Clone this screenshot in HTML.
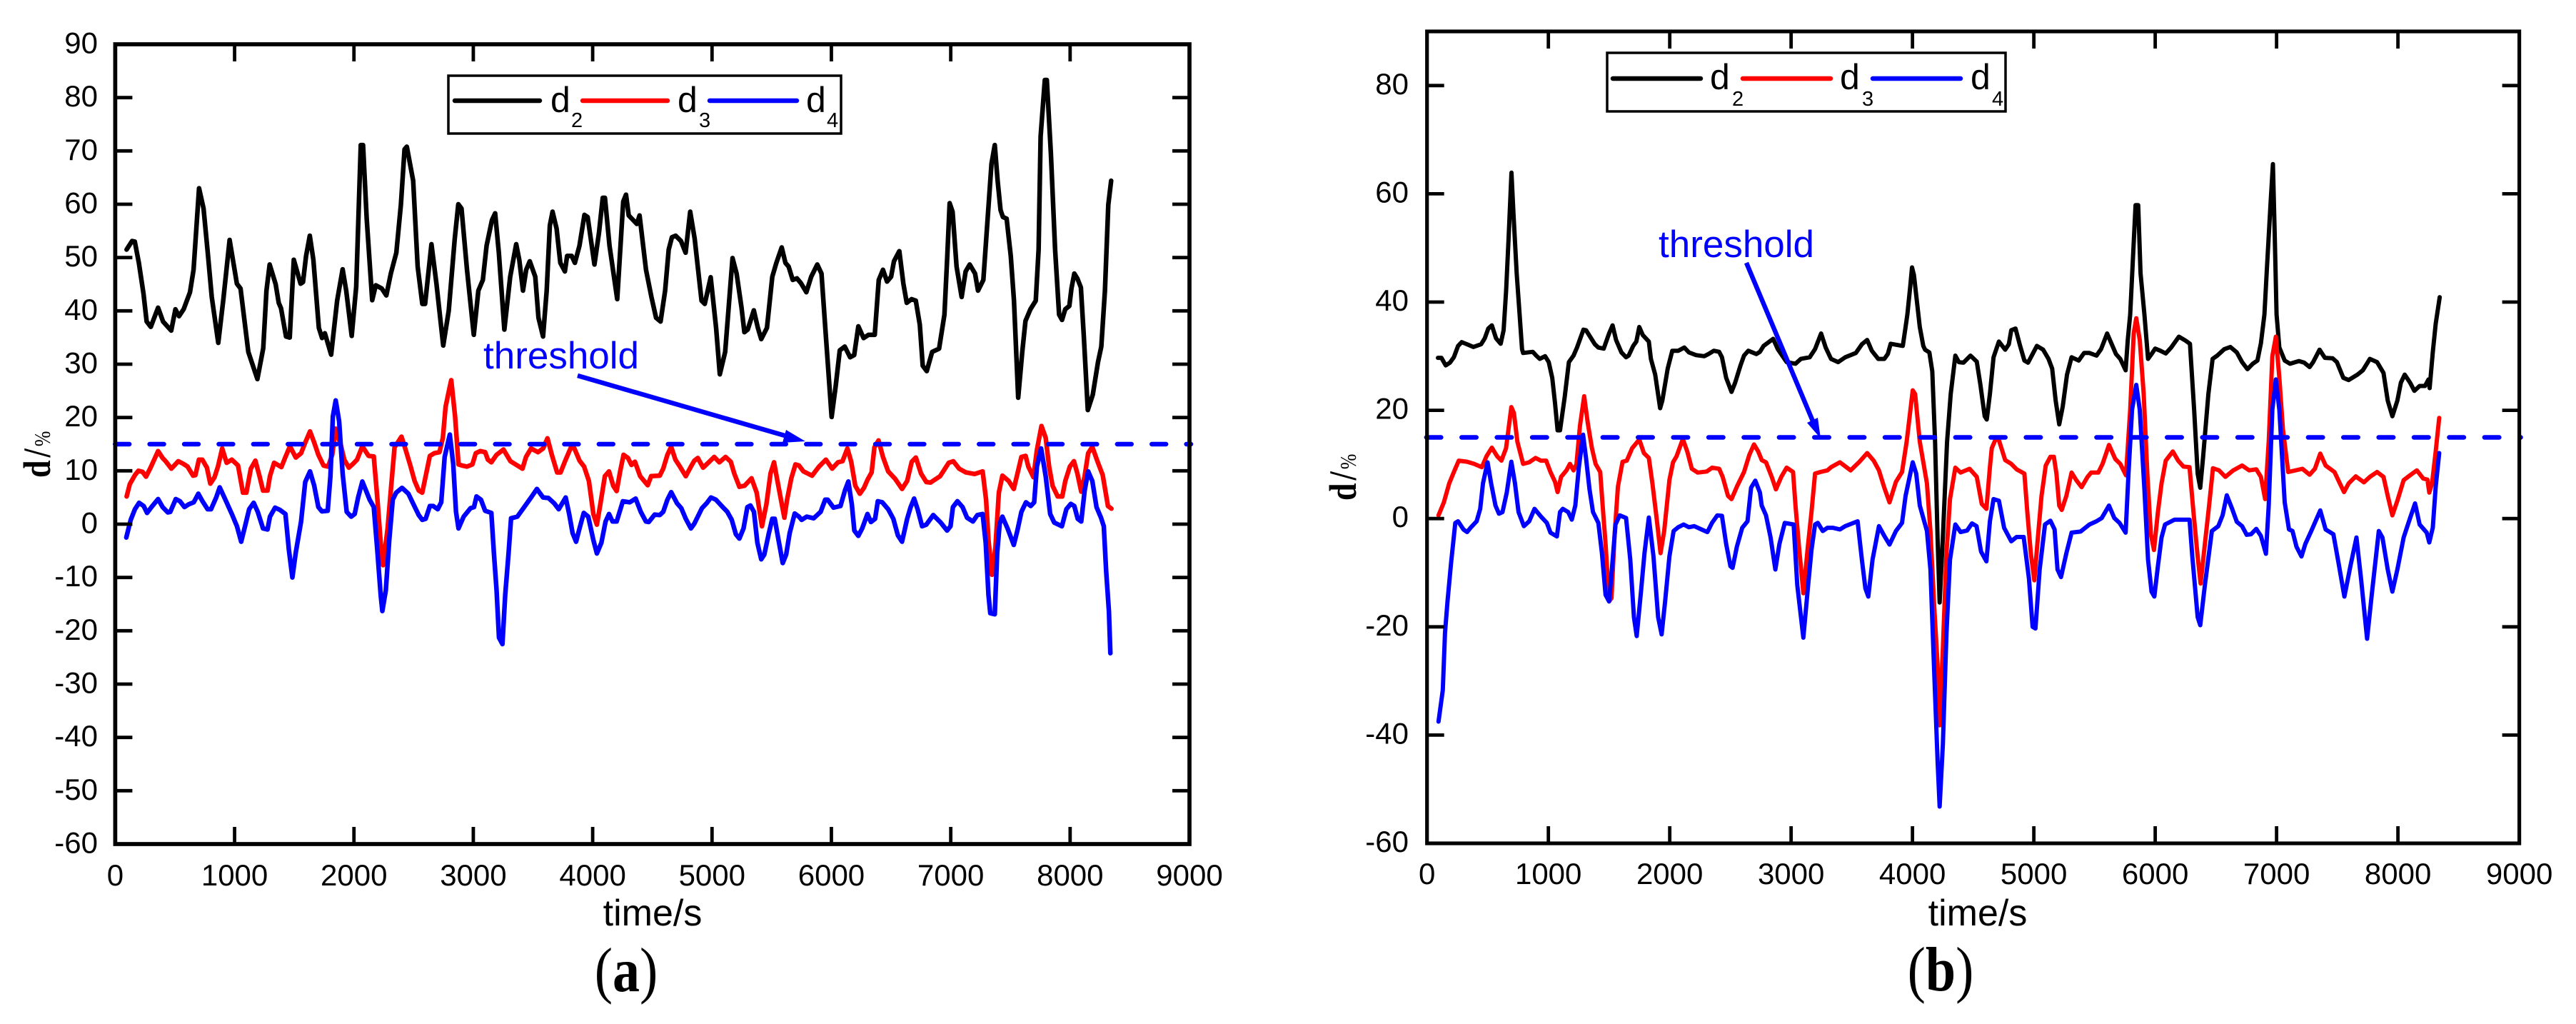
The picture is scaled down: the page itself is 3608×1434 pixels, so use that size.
<!DOCTYPE html>
<html lang="en">
<head>
<meta charset="utf-8">
<title>d2 d3 d4 deviation over time</title>
<style>
html,body{margin:0;padding:0;background:#fff;}
svg{display:block;}
text{font-family:"Liberation Sans",Arial,sans-serif;}
</style>
</head>
<body>
<svg id="fig" xmlns="http://www.w3.org/2000/svg" width="3608" height="1434" viewBox="0 0 3608 1434"></svg>
<script>
const xTickLabels = [0,1000,2000,3000,4000,5000,6000,7000,8000,9000];
const yTickLabelsA = [90,80,70,60,50,40,30,20,10,0,-10,-20,-30,-40,-50,-60];
const yTickLabelsB = [80,60,40,20,0,-20,-40,-60];
const thresholdValue = 15;

const aD2T = [95,141,164,198,237,263,298,359,401,469,
504,534,573,626,656,702,740,775,809,863,
905,958,1019,1050,1115,1191,1240,1267,1294,1344,
1370,1389,1431,1462,1496,1553,1573,1599,1630,1660,
1706,1733,1756,1809,1859,1905,1935,1981,2019,2057,
2076,2107,2153,2183,2233,2271,2309,2355,2393,2424,
2443,2496,2534,2573,2596,2649,2691,2748,2794,2844,
2874,2901,2947,3004,3042,3080,3111,3156,3183,3214,
3260,3309,3359,3385,3416,3443,3473,3519,3546,3584,
3615,3641,3664,3698,3729,3767,3786,3824,3851,3889,
3931,3958,4015,4053,4084,4103,4141,4206,4256,4279,
4302,4340,4370,4393,4447,4492,4531,4569,4607,4637,
4664,4695,4740,4779,4817,4855,4912,4939,4989,5034,
5065,5110,5172,5206,5247,5271,5299,5350,5384,5412,
5460,5505,5539,5584,5615,5642,5676,5711,5745,5790,
5831,5882,5917,5951,6002,6036,6070,6112,6157,6191,
6226,6270,6311,6363,6397,6432,6466,6500,6524,6569,
6603,6631,6672,6707,6741,6765,6799,6844,6902,6947,
6971,6991,7015,7049,7091,7125,7159,7204,7228,7273,
7307,7341,7369,7393,7417,7437,7468,7503,7530,7565,
7599,7626,7667,7712,7736,7753,7788,7805,7839,7874,
7908,7932,7959,7993,8011,8035,8062,8090,8114,8148,
8190,8234,8261,8292,8320,8344];
const aD2V = [51.5,53.1,53,49,43.2,38,37,40.6,38,36.3,
40.3,39,40.3,43.5,47.7,63,59.2,50.9,42.6,34,
42,53.3,45.1,44.2,32.3,27.2,33,43.8,48.7,45,
41.5,40.5,35.2,35,49.6,45.1,45.4,50.3,54.1,49.6,
36.8,34.9,35.8,31.8,41.9,47.8,43.8,35.3,44.5,71.1,
71.1,57.3,42,44.8,44.2,42.9,47,50.9,59.9,70.3,
70.8,64.4,48.3,41.3,41.3,52.5,45.1,33.5,40,53.5,
60,59.2,47.7,35.5,43.8,45.8,52.2,57,58.3,50.9,
36.5,46.4,52.5,49.6,43.8,47.7,49.3,46.4,38.7,35.2,
43.8,56,58.6,55.4,49,47.4,50.3,50.3,49,52.2,
58,57.6,48.7,54.7,61.2,61.2,52.2,42.2,60.5,61.8,
57.9,57,56.3,57.9,47.7,42.6,38.7,38,43.8,51.5,
53.8,54.1,53.1,50.9,58.6,53.5,41.9,41.3,46.3,36.8,
28.1,32.3,49.9,47,40.6,36,36.5,40.1,36.8,34.7,
36.8,46.4,49,51.9,49,48.3,45.8,46.1,45.2,43.5,
46.4,48.7,47,36.1,20.1,25.9,32.6,33.3,31.3,31.7,
37.1,34.9,35.5,35.5,45.8,47.7,45.5,46.4,49.3,51.2,
45.1,41.5,42.2,41.9,37.4,29.7,28.7,32.3,32.9,39.3,
50.3,60.2,58.6,48.3,42.6,47.4,48.7,47,43.8,45.8,
56.7,67.6,71.1,64.4,58.9,57.6,57.3,50.3,41.9,23.7,
32.3,38.1,40.3,41.9,51.5,72.7,83.3,83.3,69.5,51.5,
39.3,38.3,40.3,40.9,44.2,47,46,44.4,35.5,21.4,
24.3,30.4,33.3,43.8,59.9,64.4];

const aD3T = [96,122,165,194,229,258,296,359,397,426,
470,528,571,606,652,672,701,730,768,797,
832,861,896,933,977,1029,1070,1099,1136,1174,
1209,1238,1276,1296,1331,1392,1426,1464,1513,1557,
1592,1632,1667,1702,1745,1783,1818,1847,1890,1919,
1957,1992,2026,2070,2122,2166,2195,2224,2244,2282,
2311,2340,2398,2427,2470,2508,2543,2572,2601,2636,
2673,2716,2745,2768,2803,2815,2847,2876,2905,2948,
2992,3021,3058,3099,3122,3151,3195,3253,3311,3369,
3412,3441,3484,3542,3585,3621,3658,3702,3731,3774,
3818,3847,3890,3928,3968,4006,4035,4064,4102,4137,
4172,4201,4230,4259,4296,4325,4354,4398,4461,4490,
4562,4591,4626,4658,4693,4731,4780,4823,4852,4881,
4925,4968,5018,5061,5113,5157,5186,5229,5273,5331,
5374,5418,5455,5490,5519,5548,5606,5629,5664,5699,
5728,5766,5838,5896,5954,6006,6055,6093,6134,6166,
6200,6238,6273,6302,6337,6360,6395,6432,6476,6534,
6592,6635,6673,6708,6751,6795,6830,6911,6983,7021,
7070,7128,7200,7267,7296,7316,7345,7374,7403,7433,
7485,7528,7563,7592,7627,7650,7693,7722,7760,7795,
7824,7853,7896,7934,7960,7998,8032,8061,8093,8122,
8151,8186,8230,8273,8317,8346];
const aD3V = [5.2,7.5,9.2,10,9.8,8.9,10.6,13.7,12.4,11.7,
10.4,11.8,11.3,10.8,9.1,9.2,12.1,12.1,10.6,7.6,
8.8,10.8,14.2,11.5,12.1,11,5.9,5.9,10.4,11.9,
9,6.3,6.3,9,11.5,10.7,12.6,14.6,12.5,13.3,
15.3,17.4,15.3,13,11,10.8,13,17.9,14.8,12.1,
10.6,11.3,12.1,14.6,12.8,12.7,5,-3.5,-7.7,-0.8,
6.8,14.4,16.4,14.4,11.2,8.1,6.3,5.9,9,12.8,
13.3,13.5,16.2,22,25.8,27,20.2,11.2,11,10.8,
11.2,13.3,13.7,13.5,12.1,11.6,13,14,11.8,11,
10.4,12.6,14.2,13.5,14.2,16.1,13,9.7,9.7,12.1,
14.4,14.2,11.9,10.8,8.1,1.9,-0.1,3.7,9,9.9,
7.2,6.2,9.9,13,12.4,11.1,11.7,9,7.3,9,
9.1,10.4,13,14.5,12.1,10.8,9,10.8,11.9,12.4,
10.6,11.5,12.6,11.6,12.6,11.7,9.5,7,7.2,8.6,
5.9,-0.4,3.7,9.5,11.6,8.1,1.2,4.6,8.6,11.2,
11,9.9,9.1,10.8,12.1,10.4,11.6,11.8,14.2,11.7,
7.2,5.7,6.8,8.3,9.7,14.4,15.7,12.6,9.9,8.5,
6.6,8.1,11.7,12.5,9.5,7.9,7.8,9,11.5,11.8,
10.4,9.7,9.4,9.9,4.6,-3,-9.5,-4.4,5.9,9.1,
8.1,6.6,9.9,12.6,12.8,10.8,8.8,13.9,18.4,16.2,
10.8,7.2,5.2,5.2,8.1,10.8,11.8,9.5,6.1,9,
13.3,14.5,11.7,9.2,3.4,2.9];

const aD4T = [93,130,165,200,238,267,304,359,397,441,
461,507,542,580,614,658,696,731,774,803,
846,875,919,977,1020,1055,1093,1122,1160,1194,
1238,1276,1296,1339,1377,1426,1455,1484,1513,1557,
1592,1632,1667,1702,1731,1780,1803,1823,1847,1876,
1905,1939,1977,2006,2035,2070,2108,2131,2166,2195,
2224,2238,2267,2296,2325,2354,2403,2456,2499,2543,
2572,2601,2636,2664,2702,2731,2760,2803,2832,2855,
2876,2919,2977,3006,3027,3064,3099,3151,3172,3195,
3215,3244,3267,3296,3316,3369,3426,3484,3533,3585,
3629,3678,3716,3774,3803,3832,3861,3890,3925,3963,
4006,4035,4073,4108,4137,4166,4201,4253,4311,4360,
4403,4446,4470,4519,4562,4591,4626,4658,4707,4742,
4780,4823,4852,4916,4954,4991,5032,5090,5128,5165,
5200,5229,5264,5296,5322,5351,5380,5412,5438,5476,
5505,5525,5554,5592,5621,5650,5693,5728,5751,5794,
5852,5910,5948,5969,6018,6076,6113,6142,6171,6192,
6226,6258,6302,6331,6366,6389,6426,6476,6519,6557,
6592,6635,6664,6693,6722,6760,6795,6853,6916,6969,
6998,7018,7056,7099,7137,7186,7223,7267,7293,7316,
7331,7369,7389,7410,7433,7476,7528,7557,7592,7630,
7670,7699,7722,7757,7795,7833,7867,7931,7969,8006,
8035,8064,8093,8122,8151,8186,8221,8259,8282,8302,
8325,8337];
const aD4V = [-2.5,0.8,2.8,4,3.4,2.1,3.2,4.7,3.2,2.2,
2.3,4.7,4.3,3.2,3.7,4.1,5.7,4.3,2.8,2.8,
5,6.9,4.8,1.9,-0.4,-3.3,0.1,2.8,4,2.3,
-0.8,-1,1.4,3.1,2.7,1.9,-4.8,-10,-5.3,0.5,
7.9,9.9,7.2,3.2,2.4,2.5,9,20.2,23.2,19.3,
9.5,2.3,1.4,1.9,5,8,5.9,4.6,3.2,-4.8,
-13.3,-16.3,-12.4,-3,4.6,5.9,6.8,5.7,3.7,1.7,
0.8,1,3.4,3.4,2.8,4.1,12.6,16.8,11.3,2.3,
-0.8,1.4,3,3.2,5.2,4.6,2.5,2.1,-5.3,-12.4,
-21.3,-22.5,-13.3,-5.3,1.1,1.4,3.2,5,6.6,5,
4.9,3.9,2.8,5,1.9,-1.7,-3.3,-0.8,2.1,1.4,
-3,-5.5,-3.5,0.5,1.9,0.5,0.5,4.3,4.1,4.8,
2.3,0.5,0.4,1.8,1.7,2.3,4.6,6,3.9,3,
1,-0.8,0.1,3,3.9,5,4.6,3.2,2.3,0.8,
-1.9,-2.7,-0.8,3.2,3.5,2.3,-3.5,-6.6,-5.7,-1.7,
1,1,-2.6,-7.3,-5.7,-1.7,2,1.4,0.8,1.4,
1.1,2.3,4.6,4.6,3.1,3.4,6.3,8,3.7,-1.2,
-2.2,-0.8,1.9,0.4,1,4.3,4.1,2.8,1,-2.1,
-3.3,1,3.2,4.8,2.8,-0.4,-0.1,1.7,0.3,-1.2,
-0.4,3.2,4.3,3.2,1.2,0.5,1.7,1.9,-3.5,-13.3,
-16.7,-16.9,-5.3,0.1,1.4,-0.8,-3.9,-1.3,2.3,4.1,
3.4,4.1,10.8,14.2,9,1.9,0.3,-0.4,2.8,3.8,
3.4,1,0.5,6.3,9.9,8.1,3.2,1.2,-0.4,-8.8,
-16.4,-24.2];

const bD2T = [90,119,154,189,221,256,286,330,382,446,
476,505,534,569,607,631,652,672,696,712,
739,763,783,792,871,900,929,973,1003,1032,
1055,1076,1096,1134,1169,1207,1236,1289,1310,1383,
1412,1456,1500,1529,1558,1602,1640,1661,1699,1725,
1749,1778,1828,1845,1880,1921,1939,1983,2021,2070,
2120,2158,2217,2284,2319,2363,2407,2430,2465,2509,
2539,2583,2612,2647,2714,2743,2773,2852,2890,2963,
3036,3080,3153,3197,3247,3285,3329,3387,3446,3533,
3583,3627,3665,3718,3768,3797,3820,3920,3943,3958,
3982,3996,4012,4060,4089,4104,4139,4163,4186,4207,
4224,4250,4285,4315,4353,4382,4420,4478,4530,4559,
4595,4612,4638,4668,4712,4764,4794,4814,4849,4887,
4922,4952,4990,5025,5077,5121,5151,5180,5209,5238,
5273,5311,5370,5414,5458,5516,5554,5604,5648,5677,
5712,5756,5774,5794,5838,5860,5879,5911,5941,5970,
6000,6043,6087,6131,6195,6248,6286,6321,6350,6371,
6394,6438,6473,6511,6570,6619,6672,6716,6760,6804,
6842,6871,6900,6920,6950,6970,6985,7000,7023,7067,
7111,7184,7228,7272,7301,7354,7398,7462,7497,7550,
7594,7667,7711,7769,7828,7881,7916,7954,7995,8024,
8056,8100,8135,8179,8223,8252,8261,8287,8311,8344];
const bD2V = [29.7,29.7,28.3,28.8,29.8,31.9,32.6,32.2,31.7,32.2,
33.3,35.1,35.7,33.3,32.3,34.8,42.1,51.6,63.9,56.6,
45.3,37.7,31.3,30.6,30.8,30.1,29.5,30,28.9,26,
21.3,16.3,16.3,22.4,28.9,30.1,31.6,34.9,34.8,32.2,
31.6,31.4,34.2,35.7,33,30.7,29.8,30.1,31.9,32.7,
35.4,33.9,32.7,29.5,26.6,20.4,21.8,27.7,31,31,
31.6,30.7,30.2,30,30.4,31,30.8,29.8,26,23.4,
25.1,28.3,30.1,31,30.4,30.8,31.9,33.2,31.3,28.9,
28.6,29.5,29.8,31.3,34.2,31.6,29.5,28.9,29.8,30.6,
32.2,33,31,29.5,29.5,30.4,32.3,31.9,35.4,37.7,
43,46.4,45,35.4,31.9,31.2,30.7,27.2,14.2,-3.5,
-15.5,-3.5,14.2,23,30.1,28.9,28.8,30.1,29,24.8,
18.9,18.3,23,29.8,32.7,31.2,32.2,34.8,35.1,31.9,
29.2,28.8,30.4,31.9,31.2,29.5,27.7,21.8,17.4,20.7,
26.6,29.8,29.2,30.6,30.6,30.1,31.3,34.2,31.9,30.4,
29.5,27.4,33,37.7,57.9,57.9,45.3,37.7,29.5,30.4,
31.4,31,30.5,31.6,33.6,32.9,32.3,20,8.3,5.7,
11.2,23,29.5,30.1,31.3,31.7,30.7,28.9,27.6,28.6,
29.2,32.4,37.7,46,58,65.5,52,37.7,31.6,29.2,
28.6,29.1,28.8,28,28.9,31.2,29.7,29.6,28.9,26,
25.6,26.6,27.4,29.5,28.9,26.9,21.8,18.9,21.8,25.1,
26.6,25.1,23.6,24.5,24.5,25.7,24.1,30.7,36,40.9];

const bD3T = [95,139,183,227,262,330,388,452,490,534,
578,613,651,695,716,745,792,842,894,938,
982,1017,1055,1076,1105,1149,1178,1207,1231,1260,
1295,1324,1359,1389,1427,1447,1471,1500,1520,1544,
1573,1611,1646,1690,1749,1787,1828,1857,1895,1924,
1954,1997,2027,2056,2108,2144,2182,2231,2305,2349,
2407,2436,2480,2509,2553,2612,2656,2694,2729,2758,
2793,2840,2875,2919,2963,3016,3036,3065,3101,3138,
3168,3197,3241,3299,3329,3402,3490,3563,3627,3680,
3724,3768,3811,3864,3914,3952,4002,4022,4060,4119,
4148,4177,4207,4224,4250,4280,4309,4353,4397,4470,
4530,4571,4609,4638,4653,4688,4712,4764,4814,4858,
4922,4946,4975,5004,5033,5063,5098,5136,5165,5186,
5209,5230,5268,5311,5350,5393,5443,5472,5531,5566,
5619,5671,5712,5759,5794,5823,5844,5873,5905,5935,
5964,5990,6022,6052,6087,6145,6189,6233,6283,6315,
6350,6374,6409,6444,6476,6526,6578,6643,6716,6774,
6833,6871,6906,6935,6965,6994,7023,7052,7096,7213,
7272,7316,7360,7404,7477,7521,7556,7594,7652,7720,
7769,7828,7881,7916,7954,7995,8047,8106,8156,8208,
8243,8258,8281,8311,8340];
const bD3V = [0.6,3,6.5,8.9,10.7,10.5,10.1,9.5,11.5,13.1,
11.5,10.7,13,20.6,19.5,14.2,10.1,10.4,11.2,10.7,
10.7,8.6,6.8,4.9,7.7,8.9,10.1,8.9,10,17.1,
22.6,17.7,13,10.1,8.6,2.4,-4.7,-15.3,-14.7,-3.5,
5.9,10.5,10.7,13,14.6,12.1,11.2,6.5,-0.5,-6.4,
-2.3,7.1,10.4,11.5,14.7,12.4,9.2,8.5,8.7,9.4,
9.2,7.7,4.2,3.6,5.9,8.6,11.8,13.7,12.4,10.8,
10.4,7.7,5.4,7.7,9.4,8.6,2.4,-5.2,-13.8,-5.2,
1.2,8.3,8.6,8.9,9.5,10.4,8.9,10.5,12.1,10.7,
8.9,5.7,3,6.8,8.6,14.2,23.7,23,14.2,6.5,
-2.3,-15.3,-27,-38.2,-24,-6.4,3.6,9.4,8.5,9.2,
7.7,2.7,1.8,9.5,13,14.8,14.5,10.8,10.1,9.1,
8.3,1.2,-6.4,-11.4,-3.5,4.2,9.8,11.4,11.4,8.3,
2.4,1.6,4.2,8.5,7.1,5.8,7.7,8.5,8.5,10.1,
13.6,11,10.1,8,20.1,34.2,37,33,23,8.3,
-2.9,-5.8,1.2,6.5,10.7,12.4,10.7,9.6,9.5,1.2,
-7,-12,-4.7,2.4,9.3,8.9,7.7,8.9,9.8,8.9,
9.1,7.7,3.6,14.2,30,33.6,26,16.5,8.6,9.2,
8.1,9.2,12,9.8,8.6,6.5,4.9,6.5,7.8,6.7,
7.7,8.6,7.7,4.2,0.6,3.3,7.1,8.1,8.9,7.4,
7.2,4.8,6.5,12.4,18.6];

const bD4T = [95,130,148,169,198,233,256,300,330,359,
409,438,461,499,528,564,593,622,657,695,
725,754,798,842,886,938,988,1017,1070,1096,
1119,1163,1193,1222,1251,1286,1310,1339,1368,1412,
1441,1471,1500,1523,1553,1588,1640,1675,1705,1728,
1763,1792,1828,1866,1904,1933,1962,1997,2032,2070,
2114,2158,2202,2261,2310,2348,2392,2430,2465,2500,
2518,2553,2597,2641,2670,2705,2743,2758,2793,2831,
2870,2904,2948,3021,3051,3101,3138,3168,3197,3220,
3261,3299,3343,3402,3446,3548,3583,3612,3636,3671,
3724,3768,3811,3864,3914,3943,4002,4031,4060,4119,
4148,4177,4207,4224,4250,4280,4309,4353,4397,4450,
4490,4528,4565,4609,4638,4668,4712,4755,4814,4858,
4916,4960,4990,5013,5048,5092,5136,5171,5195,5224,
5268,5311,5385,5458,5516,5560,5619,5663,5706,5756,
5780,5809,5844,5873,5911,5941,5970,5993,6022,6052,
6081,6160,6219,6283,6306,6350,6371,6409,6467,6520,
6555,6590,6634,6672,6716,6754,6789,6833,6871,6912,
6935,6965,6994,7023,7067,7102,7131,7164,7205,7237,
7286,7360,7404,7468,7506,7559,7608,7658,7696,7746,
7784,7842,7872,7916,7954,7995,8047,8091,8141,8179,
8237,8258,8287,8311,8340];
const bD4V = [-37.5,-31.7,-21.1,-15.3,-8.2,-0.8,-0.5,-2,-2.5,-1.7,
-0.5,1.8,6.5,10.4,6.5,2.4,0.9,1.2,4.8,10.5,
6.5,1.2,-1.4,-0.5,1.8,0.4,-0.8,-2.6,-3.3,1.2,
1.8,1.2,-0.2,2.4,9.5,15.5,11.2,5.4,1.2,-0.8,
-6.4,-14.1,-15.3,-9.4,-1.1,0.6,0.1,-7.6,-18.2,-21.7,
-13.5,-6.4,0.2,-7,-18.2,-21.4,-15.3,-7,-2.3,-1.6,
-1.1,-1.6,-1.4,-2,-2.5,-0.8,0.6,0.5,-4.7,-8.8,
-9.1,-5.2,-1.7,-0.5,5.7,7,4.8,2.4,0.6,-3.5,
-9.4,-4.7,-0.8,-1.1,-12.3,-22,-12.9,-5.8,-1.1,-0.8,
-2.3,-1.7,-1.7,-2,-1.4,-0.5,-7.6,-12.9,-14.4,-7.6,
-1.4,-3.2,-4.8,-2.3,-0.8,4.2,10.4,8.3,2.4,-2.3,
-9.4,-27,-44.7,-53.2,-41.8,-21.1,-7.6,-1.1,-2.5,-2.2,
-0.9,-1.4,-6.1,-7.9,-0.5,3.6,3.3,-1.7,-4.2,-3.4,
-3.4,-11.1,-20,-20.3,-9.4,-1.1,-0.4,-2,-9.4,-10.8,
-6.4,-2.6,-2.4,-1.1,-0.5,0.1,2.4,0.1,-0.8,-2.6,
8.3,20.1,24.7,20.1,5.4,-7.6,-13.5,-14.4,-8.8,-3.5,
-1.1,-0.2,-0.2,-0.2,-7,-18.2,-19.7,-12.3,-2.3,-1.4,
0.6,4.3,1.8,-0.6,-1.4,-3,-2.9,-1.9,-3.2,-6.5,
2.4,20.1,25.7,20.1,3,-2,-2.3,-5.2,-7,-4.7,
-2.3,1.5,-2,-2.9,-7.6,-14.4,-8.8,-3.5,-11.1,-22.2,
-14.1,-2.3,-3.5,-9.4,-13.5,-9.4,-3.5,-0.5,2.8,-1.1,
-2.6,-4.4,-1.7,5.9,12.1];

const SVG_NS = 'http://www.w3.org/2000/svg';
const fig = document.getElementById('fig');

function make(tag, attrs, parent) {
  const el = document.createElementNS(SVG_NS, tag);
  for (const k in attrs) el.setAttribute(k, attrs[k]);
  (parent || fig).appendChild(el);
  return el;
}

function drawPanel(p) {
  const g = make('g', {});
  
  
  const x = t => p.left + (t - 0) / 9000 * (p.right - p.left);
  const y = v => p.bottom - (v - (-60)) / 150 * (p.bottom - p.top);

  // series
  p.series.forEach(s => {
    const n = Math.min(s.t.length, s.v.length);
    const pts = [];
    for (let i = 0; i < n; i++) pts.push(x(s.t[i]).toFixed(1) + ',' + y(s.v[i]).toFixed(1));
    const line = make('polyline', {points: pts.join(' '), fill: 'none', stroke: s.color, 'stroke-width': p.lineWidth, 'stroke-linejoin': 'round', 'stroke-linecap': 'round'}, g);
    
    
  });

  // threshold
  const th = make('line', {x1: p.dashStart, x2: p.right + 2, y1: y(thresholdValue), y2: y(thresholdValue), stroke: '#0000ff', 'stroke-width': 6.5, 'stroke-dasharray': p.dash, 'stroke-linecap': 'round'}, g);
  
  

  // frame
  const frame = make('rect', {x: p.left, y: p.top, width: p.right - p.left, height: p.bottom - p.top, fill: 'none', stroke: '#000', 'stroke-width': p.axisWidth}, g);
  
  

  // x ticks
  xTickLabels.forEach(t => {
    if (t > 0 && t < 9000) {
      const a = make('line', {x1: x(t), x2: x(t), y1: p.top, y2: p.top + p.tickLen, stroke: '#000', 'stroke-width': p.tickWidth}, g);
      
      
      const b = make('line', {x1: x(t), x2: x(t), y1: p.bottom, y2: p.bottom - p.tickLen, stroke: '#000', 'stroke-width': p.tickWidth}, g);
      
      
    }
    const lab = make('text', {x: x(t), y: p.xLabelY, 'font-size': p.tickFont, 'text-anchor': 'middle', fill: '#000'}, g);
    lab.textContent = t;
    
    
  });

  // y ticks
  p.yLabels.forEach(v => {
    if (v !== 90 && v !== -60) {
      const a = make('line', {x1: p.left, x2: p.left + p.tickLen, y1: y(v), y2: y(v), stroke: '#000', 'stroke-width': p.tickWidth}, g);
      
      
      const b = make('line', {x1: p.right, x2: p.right - p.tickLen, y1: y(v), y2: y(v), stroke: '#000', 'stroke-width': p.tickWidth}, g);
      
      
    }
    const lab = make('text', {x: p.yLabelX, y: y(v) + p.yLabelDy, 'font-size': p.tickFont, 'text-anchor': 'end', fill: '#000'}, g);
    lab.textContent = v;
    
    
  });

  // x axis title
  const xt = make('text', {x: p.xTitleX, y: p.xTitleY, 'font-size': 52, 'text-anchor': 'middle', fill: '#000'}, g);
  xt.textContent = 'time/s';
  
  

  // y axis title
  const yt = make('text', {transform: 'translate(' + p.yTitleX + ',' + p.yTitleY + ') rotate(-90) scale(1,1.22)', 'font-size': 44, fill: '#000', style: 'font-family:"Liberation Serif",serif;font-weight:bold'}, g);
  
  
  const d1 = make('tspan', {}, yt); d1.textContent = 'd';
  const d2 = make('tspan', {dx: 4}, yt); d2.textContent = '/';
  const d3 = make('tspan', {dx: 3, 'font-size': 26, style: 'font-weight:normal'}, yt); d3.textContent = '%';

  // legend
  const l = p.legend;
  const leg = make('g', {}, g);
  
  
  const box = make('rect', {x: l.x, y: l.y, width: l.w, height: l.h, fill: '#fff', stroke: '#000', 'stroke-width': 3.5}, leg);
  
  
  p.series.forEach((s, i) => {
    const e = l.entries[i];
    const sw = make('line', {x1: e.x1, x2: e.x2, y1: l.lineY, y2: l.lineY, stroke: s.color, 'stroke-width': 6.5, 'stroke-linecap': 'round'}, leg);
    
    
    const d = make('text', {x: e.dx, y: l.dY, 'font-size': 50, fill: '#000'}, leg);
    d.textContent = 'd';
    
    
    const sub = make('text', {x: e.sx, y: l.subY, 'font-size': 29, fill: '#000'}, leg);
    sub.textContent = s.name.slice(1);
    
    
  });

  // threshold annotation
  const tt = make('text', {x: p.thText.x, y: p.thText.y, 'font-size': 53, fill: '#0000ff'}, g);
  tt.textContent = 'threshold';
  
  
  const ar = make('line', {x1: p.arrow.x1, y1: p.arrow.y1, x2: p.arrow.x2, y2: p.arrow.y2, stroke: '#0000ff', 'stroke-width': 6.5}, g);
  
  
  const hd = make('polygon', {points: p.arrow.head, fill: '#0000ff'}, g);
  
  

  // caption
  const cap = make('text', {transform: 'translate(' + p.capX + ',' + p.capY + ') scale(1,1.15)', 'font-size': 76, 'text-anchor': 'middle', fill: '#000', style: 'font-family:"Liberation Serif",serif'}, g);
  
  
  const c1 = make('tspan', {}, cap); c1.textContent = '(';
  const c2 = make('tspan', {style: 'font-weight:bold'}, cap); c2.textContent = p.id;
  const c3 = make('tspan', {}, cap); c3.textContent = ')';
}

drawPanel({
  id: 'a', left: 161.4, right: 1666, top: 62, bottom: 1182, axisWidth: 5.7, tickWidth: 4.8, tickLen: 24, lineWidth: 6.5,
  tickFont: 42, xLabelY: 1240, yLabelX: 137, yLabelDy: 12.5, yLabels: yTickLabelsA,
  dashStart: 161.25, dash: '19.9 28.5',
  xTitleX: 914, xTitleY: 1296, yTitleX: 70, yTitleY: 669, capX: 877, capY: 1388,
  series: [
    {name: 'd2', color: '#000000', t: aD2T, v: aD2V},
    {name: 'd3', color: '#ff0000', t: aD3T, v: aD3V},
    {name: 'd4', color: '#0000ff', t: aD4T, v: aD4V}
  ],
  legend: {x: 628, y: 106, w: 550, h: 81, lineY: 141, dY: 157, subY: 178,
    entries: [{x1: 637, x2: 756, dx: 771, sx: 800}, {x1: 816, x2: 935, dx: 949, sx: 979}, {x1: 994, x2: 1116, dx: 1129, sx: 1158}]},
  thText: {x: 677, y: 516},
  arrow: {x1: 809, y1: 526, x2: 1106, y2: 612, head: '1128,618 1101,602 1096,620'}
});

drawPanel({
  id: 'b', left: 1998.7, right: 3528.6, top: 44, bottom: 1181, axisWidth: 5.2, tickWidth: 4.8, tickLen: 24, lineWidth: 6,
  tickFont: 42, xLabelY: 1238, yLabelX: 1973, yLabelDy: 12, yLabels: yTickLabelsB,
  dashStart: 1997.85, dash: '20.5 28.9',
  xTitleX: 2770, xTitleY: 1296, yTitleX: 1899, yTitleY: 701, capX: 2718, capY: 1387,
  series: [
    {name: 'd2', color: '#000000', t: bD2T, v: bD2V},
    {name: 'd3', color: '#ff0000', t: bD3T, v: bD3V},
    {name: 'd4', color: '#0000ff', t: bD4T, v: bD4V}
  ],
  legend: {x: 2251, y: 74, w: 558, h: 82, lineY: 110, dY: 125, subY: 148,
    entries: [{x1: 2259, x2: 2382, dx: 2395, sx: 2426}, {x1: 2441, x2: 2564, dx: 2577, sx: 2608}, {x1: 2623, x2: 2746, dx: 2760, sx: 2790}]},
  thText: {x: 2323, y: 360},
  arrow: {x1: 2446, y1: 368, x2: 2540, y2: 592, head: '2550,614 2531,592 2546,585'}
});
</script>
</body>
</html>
